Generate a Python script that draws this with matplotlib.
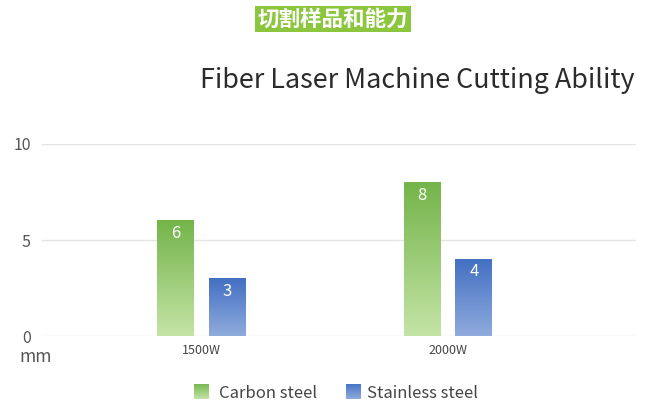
import numpy as np
import matplotlib
matplotlib.use("Agg")
import matplotlib.pyplot as plt
from matplotlib.colors import LinearSegmentedColormap

categories = ["1500W", "2000W"]
carbon = [6, 8]
stainless = [3, 4]
series_names = ["Carbon steel", "Stainless steel"]
yticks = [0, 5, 10]

plt.rcParams['font.family'] = ['Noto Sans CJK SC', 'DejaVu Sans']

fig = plt.figure(figsize=(6.5, 4.15), dpi=100)
fig.patch.set_facecolor('white')
ax = fig.add_axes([42/650, 79/415, (636-42)/650, (336-144)/415])

green_cmap = LinearSegmentedColormap.from_list('g', ['#c4e4a6', '#74b44a'])
blue_cmap = LinearSegmentedColormap.from_list('b', ['#90abdd', '#4370c3'])

x = np.arange(len(categories))
w = 0.15
off = 0.105
b1 = ax.bar(x - off, carbon, w, color='none', edgecolor='none', zorder=2)
b2 = ax.bar(x + off, stainless, w, color='none', edgecolor='none', zorder=2)

grad = np.linspace(0, 1, 256).reshape(-1, 1)
for bars, cmap in ((b1, green_cmap), (b2, blue_cmap)):
    for r in bars:
        x0, wd, h = r.get_x(), r.get_width(), r.get_height()
        ax.imshow(grad, cmap=cmap, origin='lower', aspect='auto',
                  extent=(x0, x0 + wd, 0, h), zorder=2, interpolation='bicubic')
        ax.text(x0 + wd/2, h - 0.22, f"{h:g}", ha='center', va='top',
                color='white', fontsize=12, zorder=3)

ax.set_xlim(-0.647, 1.763)
ax.set_ylim(0, 10)
ax.set_yticks(yticks)
ax.set_yticklabels([str(t) for t in yticks], fontsize=11.5, color='#555555')
ax.set_xticks(x)
ax.set_xticklabels(categories, fontsize=9, color='#444444')
ax.tick_params(axis='both', length=0)
ax.tick_params(axis='y', pad=8)
ax.tick_params(axis='x', pad=6)
ax.grid(axis='y', color='#e4e4e4', linewidth=1, zorder=0)
ax.set_axisbelow(True)
for s in ax.spines.values():
    s.set_visible(False)

fig.text(19/650, 1 - 362/415, "mm", fontsize=12.5, color='#555555',
         va='baseline', ha='left')

fig.text(634/650, 1 - 81/415, "Fiber Laser Machine Cutting Ability", fontsize=19.4,
         color='#2b2b2b', ha='right', va='center')

fig.text(333/650, 1 - 19/415, "切割样品和能力", fontsize=15.5, color='white',
         fontweight='bold', ha='center', va='center',
         bbox=dict(boxstyle='square,pad=0.13', facecolor='#8cc63f', edgecolor='none'))

# legend
lx = [194, 346]
labels_x = [219, 367]
for i, (name, cmap) in enumerate(zip(series_names, (green_cmap, blue_cmap))):
    lax = fig.add_axes([lx[i]/650, 1 - 399/415, 15/650, 15/415])
    lax.imshow(grad, cmap=cmap, origin='lower', aspect='auto')
    lax.axis('off')
    fig.text(labels_x[i]/650, 1 - 393/415, name, fontsize=12, color='#444444',
             ha='left', va='center')

fig.savefig("out.png", dpi=100, facecolor='white')
